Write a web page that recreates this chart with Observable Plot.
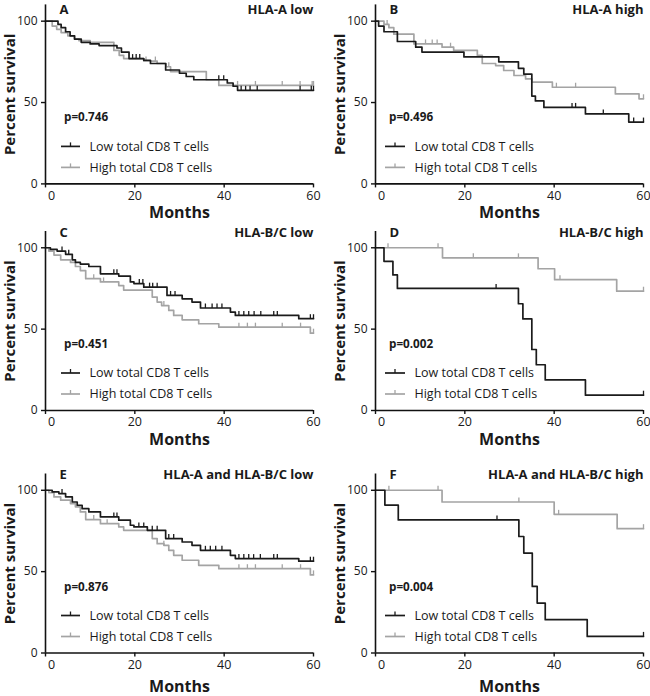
<!DOCTYPE html>
<html>
<head>
<meta charset="utf-8">
<script src="https://cdn.jsdelivr.net/npm/d3@7"></script>
<script src="https://cdn.jsdelivr.net/npm/@observablehq/plot@0.6"></script>
<style>
  html, body { margin: 0; padding: 0; background: #fff; }
  #chart { position: relative; width: 650px; height: 696px; background: #fff; overflow: hidden; }
  .panel { position: absolute; }
</style>
</head>
<body>
<div id="chart"></div>
<script>
// ---------------- DATA ----------------
const panelLetters = ["A", "B", "C", "D", "E", "F"];
const panelTitles = ["HLA-A low", "HLA-A high", "HLA-B/C low", "HLA-B/C high",
                     "HLA-A and HLA-B/C low", "HLA-A and HLA-B/C high"];
const pValues = ["0.746", "0.496", "0.451", "0.002", "0.876", "0.004"];
const seriesNames = ["Low total CD8 T cells", "High total CD8 T cells"];
const xTicks = [0, 20, 40, 60];
const yTicks = [0, 50, 100];
const xLabel = "Months";
const yLabel = "Percent survival";

// Panel A
const A_low_time  = [2.8, 3.5, 4.5, 5.5, 6.5, 8, 10, 12, 16, 17, 18.7, 22, 23.5, 26.9, 30, 31.5, 33.2, 40.7, 42, 43];
const A_low_surv  = [98, 96, 93.5, 91, 89, 87, 86, 85, 83.5, 81, 77, 76, 74, 70, 68, 66, 64, 62, 60, 57.5];
const A_low_cens  = [19.5, 20.3, 21.1, 38.8, 39.9, 43.8, 44.8, 45.8, 47.4, 57, 59.5, 60];
const A_high_time = [1.5, 2.5, 3.5, 5, 6.5, 7.5, 10, 15.3, 16.5, 17.5, 22, 25, 27, 28, 36, 38.8];
const A_high_surv = [97, 95, 93, 91, 89, 88, 87, 82, 79, 77, 75.5, 74, 72, 69, 64, 60.5];
const A_high_cens = [22.5, 24.6, 27.6, 43, 47, 53, 57, 59.7, 60];

// Panel B
const B_low_time  = [0.7, 1.9, 4.9, 9, 10.4, 19.8, 27.6, 32, 33.2, 35, 35.8, 37.7, 47, 56.7];
const B_low_surv  = [97, 93.5, 87.5, 84, 81, 78, 75, 71, 67.5, 54, 51, 47, 43, 38];
const B_low_cens  = [44, 44.8, 51, 57.8, 60];
const B_high_time = [1.9, 3, 4.1, 8.6, 14.9, 17.5, 22.8, 23.9, 26.9, 28.7, 31, 33.6, 35, 39.6, 53.7, 59];
const B_high_surv = [98, 96, 92, 86, 84, 82, 79, 74, 72.7, 69.7, 66.6, 64.5, 62.5, 59.4, 55.3, 52.3];
const B_high_cens = [2.6, 11.2, 12.7, 13.8, 16.8, 40.5, 44.8, 60];

// Panel C
const C_low_time  = [1.1, 2.6, 4.5, 6, 6.7, 7.8, 9.7, 12.3, 16.4, 19, 19.8, 22, 27.2, 30.6, 32.8, 34.7, 41.4, 42.5, 56.7];
const C_low_surv  = [99, 98, 96, 92.6, 91, 90, 88.5, 84, 82.6, 79, 78, 75.8, 70.7, 68.6, 66.6, 63, 60.5, 58.4, 56.4];
const C_low_cens  = [3.7, 5.2, 15.3, 16, 21, 21.8, 23.3, 24, 25, 28, 29, 35.8, 37.3, 38.4, 39.5, 43.3, 44.4, 45.5, 46.7, 48.2, 51.1, 51.9, 59.3, 60];
const C_high_time = [0.75, 1.9, 3.4, 5.6, 6.7, 7.8, 9, 12.3, 16.4, 17.5, 23.9, 25, 26, 27.6, 28.7, 30.6, 34.3, 38.8, 59.3];
const C_high_surv = [98, 95.5, 92.6, 91, 88.5, 86, 81, 79, 76.8, 74, 69.7, 66.6, 64.5, 61.5, 58.4, 55.7, 53.3, 51.2, 47.5];
const C_high_cens = [10.8, 13, 26.5, 43.3, 45.2, 47, 53, 57.1, 60];

// Panel D
const D_low_time  = [1.9, 3.9, 4.9, 32, 33, 35, 36, 38, 47];
const D_low_surv  = [91.7, 83.3, 75, 65.6, 56.3, 37.5, 28.1, 18.8, 9.4];
const D_low_cens  = [27, 60];
const D_high_time = [15, 36.4, 40.1, 54];
const D_high_surv = [93.8, 87.1, 80.4, 73.3];
const D_high_cens = [2.8, 14, 21.9, 32, 41.3, 60];

// Panel E
const E_low_time  = [1.5, 3, 4.5, 6, 7.1, 8.2, 9.7, 12.3, 16.4, 19, 19.8, 22.8, 26.9, 30.6, 32.8, 34.7, 41.4, 42.5, 56.7];
const E_low_surv  = [99, 98, 96, 92.8, 90.8, 88.7, 86.7, 83.6, 81.6, 78.5, 77.5, 75.4, 70.3, 68.2, 66.2, 63.1, 60, 58, 56.4];
const E_low_cens  = [3.7, 15.3, 16, 20.9, 22, 23.9, 25, 27.6, 28.7, 35.8, 36.9, 38.1, 39.5, 43.3, 44.4, 45.5, 46.6, 48.1, 51.1, 51.9, 59.3, 60];
const E_high_time = [0.75, 1.9, 3.4, 5.6, 6.7, 7.8, 9, 12.3, 16.4, 17.5, 23.9, 25, 26.5, 27.6, 28.7, 30.6, 34.3, 38.8, 59.3];
const E_high_surv = [98.6, 95.9, 93.9, 91.8, 89.8, 86.7, 82, 79.5, 77.5, 75.4, 70.3, 67.2, 66.2, 63.1, 60, 57, 53.9, 51.8, 48];
const E_high_cens = [10.8, 13.8, 26.5, 43.3, 45.2, 47, 53, 57.1, 60];

// Panel F
const F_low_time  = [2.1, 5.1, 32.1, 33.2, 35.1, 36.2, 38, 47.4];
const F_low_surv  = [90.9, 81.8, 71.6, 61.4, 40.9, 30.7, 20.5, 10.2];
const F_low_cens  = [27.2, 60];
const F_high_time = [14.9, 40, 54.1];
const F_high_surv = [92.8, 85.2, 76.4];
const F_high_cens = [3, 14, 32.1, 41, 60];

// ---------------- STYLE / LAYOUT ----------------
const FONT = "'Open Sans', 'Noto Sans', sans-serif";
const colors = ["#1b1b1b", "#a4a4a4"];
const axisColor = "#111";
const rowTops = [0, 226, 460];
const rowHeights = [226, 234, 236];
const rowMarginTop = [4.4, 5, 13.5];
const titleDy = [4.8, 1.5, 1];
const monthsDy = [29, 29, 34];
const colLefts = [0, 330];
const PW = 320;

const panelData = {
  A: [[A_low_time, A_low_surv, A_low_cens], [A_high_time, A_high_surv, A_high_cens]],
  B: [[B_low_time, B_low_surv, B_low_cens], [B_high_time, B_high_surv, B_high_cens]],
  C: [[C_low_time, C_low_surv, C_low_cens], [C_high_time, C_high_surv, C_high_cens]],
  D: [[D_low_time, D_low_surv, D_low_cens], [D_high_time, D_high_surv, D_high_cens]],
  E: [[E_low_time, E_low_surv, E_low_cens], [E_high_time, E_high_surv, E_high_cens]],
  F: [[F_low_time, F_low_surv, F_low_cens], [F_high_time, F_high_surv, F_high_cens]]
};

const xMax = xTicks[xTicks.length - 1];

function stepAt(times, surv, t) {
  let v = 100;
  for (let i = 0; i < times.length; i++) if (times[i] <= t) v = surv[i];
  return v;
}
function curvePoints(times, surv) {
  const pts = [{t: 0, s: 100}];
  times.forEach((t, i) => pts.push({t, s: surv[i]}));
  pts.push({t: xMax, s: surv[surv.length - 1]});
  return pts;
}
function censorPoints(times, surv, cens) {
  return cens.map(t => ({t, s: stepAt(times, surv, t)}));
}

const censorSymbol = { draw(ctx) { ctx.moveTo(0, 0); ctx.lineTo(0, -4.5); } };

function legendMark(pv, col) {
  const L = col === 0 ? {x1: 16, x2: 35, tx: 44.5, px: 19} : {x1: 10, x2: 30, tx: 39.5, px: 14};
  return function(index, scales, values, dimensions) {
    const d = dimensions;
    const x0 = d.marginLeft, yb = d.height - d.marginBottom;
    const g = d3.create("svg:g").attr("font-family", FONT).attr("text-anchor", "start");
    g.append("text").attr("x", x0 + L.px).attr("y", yb - 66).attr("dy", "0.35em")
      .attr("font-weight", "bold").attr("font-size", 11.7).attr("fill", "#1a1a1a")
      .attr("text-anchor", "start").text("p=" + pv);
    [37, 16].forEach((off, i) => {
      const y = yb - off;
      g.append("line").attr("x1", x0 + L.x1).attr("x2", x0 + L.x2).attr("y1", y).attr("y2", y)
        .attr("stroke", colors[i]).attr("stroke-width", 1.7);
      const xm = x0 + (L.x1 + L.x2) / 2;
      g.append("line").attr("x1", xm).attr("x2", xm).attr("y1", y).attr("y2", y - 4)
        .attr("stroke", colors[i]).attr("stroke-width", 1.3);
      g.append("text").attr("x", x0 + L.tx).attr("y", y).attr("dy", "0.35em")
        .attr("font-size", 12.5).attr("fill", "#1a1a1a").attr("text-anchor", "start")
        .text(seriesNames[i]);
    });
    return g.node();
  };
}

const chart = document.getElementById("chart");

panelLetters.forEach((letter, k) => {
  const row = Math.floor(k / 2), col = k % 2;
  const H = rowHeights[row];
  const mt = rowMarginTop[row];
  const mb = H - (mt + 179);
  const series = panelData[letter];
  const marks = [];

  // curves (high first so low sits on top)
  [1, 0].forEach(i => {
    const [tm, sv, cs] = series[i];
    marks.push(Plot.line(curvePoints(tm, sv), {x: "t", y: "s", curve: "step-after", stroke: colors[i], strokeWidth: 1.7}));
    marks.push(Plot.dot(censorPoints(tm, sv, cs), {x: "t", y: "s", symbol: censorSymbol, stroke: colors[i], fill: "none", strokeWidth: 1.3, r: 3}));
  });

  // axes
  marks.push(Plot.ruleX([0], {stroke: axisColor, strokeWidth: 1.6}));
  marks.push(Plot.ruleY([0], {stroke: axisColor, strokeWidth: 1.6}));
  marks.push(Plot.axisY({ticks: yTicks, tickSize: 4, tickPadding: 4, label: null, fontSize: 12, stroke: axisColor, strokeWidth: 1.4}));
  marks.push(Plot.axisX({ticks: xTicks, tickSize: 4, tickPadding: 3, label: null, fontSize: 12.5, stroke: axisColor, strokeWidth: 1.4,
                         tickFormat: d => d === 0 ? "" : String(d)}));
  marks.push(Plot.axisX({ticks: [0], tickSize: 0, tickPadding: 7, label: null, fontSize: 12.5, dx: 6}));

  // labels
  marks.push(Plot.text([yLabel], {text: d => d, frameAnchor: "left", dx: -35, rotate: -90, textAnchor: "middle", lineAnchor: "middle", fontWeight: "bold", fontSize: 15, fill: "#1a1a1a"}));
  marks.push(Plot.text([xLabel], {text: d => d, frameAnchor: "bottom", dy: monthsDy[row], textAnchor: "middle", lineAnchor: "middle", fontWeight: "bold", fontSize: 16, fill: "#1a1a1a"}));
  marks.push(Plot.text([letter], {text: d => d, frameAnchor: "top-left", dx: 14, dy: titleDy[row], lineAnchor: "middle", textAnchor: "start", fontWeight: "bold", fontSize: 13, fill: "#1a1a1a"}));
  marks.push(Plot.text([panelTitles[k]], {text: d => d, frameAnchor: "top-right", dy: titleDy[row], lineAnchor: "middle", textAnchor: "end", fontWeight: "bold", fontSize: 13, fill: "#1a1a1a"}));

  marks.push(legendMark(pValues[k], col));

  const svg = Plot.plot({
    width: PW, height: H,
    marginLeft: 45, marginRight: 7, marginTop: mt, marginBottom: mb,
    x: {domain: [0, xMax]},
    y: {domain: [0, 110]},
    style: {fontFamily: FONT, fontSize: "12px", color: "#1a1a1a", background: "transparent", overflow: "visible"},
    marks
  });
  const wrap = document.createElement("div");
  wrap.className = "panel";
  wrap.style.left = colLefts[col] + "px";
  wrap.style.top = rowTops[row] + "px";
  wrap.appendChild(svg);
  chart.appendChild(wrap);
});
</script>
</body>
</html>
